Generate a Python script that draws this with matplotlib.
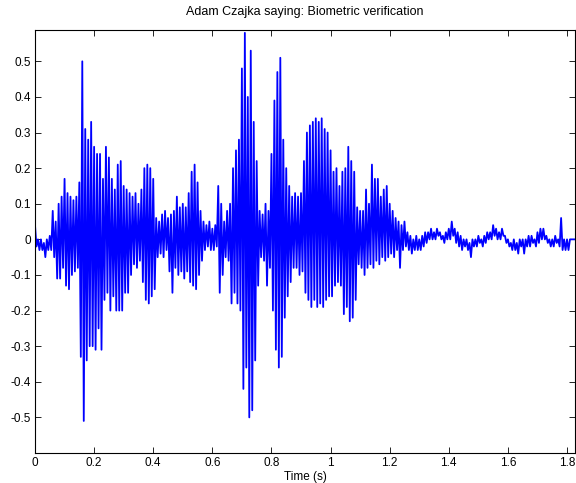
import numpy as np
import matplotlib
matplotlib.use('Agg')
import matplotlib.pyplot as plt

plt.rcParams['font.family'] = ['Liberation Sans', 'DejaVu Sans']
plt.rcParams['axes.unicode_minus'] = False

title = 'Adam Czajka saying: Biometric verification'
dt = 0.01  # one envelope pair per 10 ms

# upper (positive peak) envelope of the waveform, 10 ms bins
env_hi = [
    0.04, 0.00, 0.00, -0.01, 0.00, 0.01, 0.08, 0.05, 0.10, 0.12,
    0.17, 0.13, 0.12, 0.11, 0.12, 0.16, 0.50, 0.31, 0.28, 0.33,
    0.26, 0.24, 0.24, 0.17, 0.26, 0.23, 0.17, 0.14, 0.21, 0.22,
    0.15, 0.14, 0.13, 0.12, 0.13, 0.10, 0.14, 0.20, 0.21, 0.20,
    0.17, 0.06, 0.05, 0.07, 0.08, 0.06, 0.07, 0.08, 0.12, 0.09,
    0.10, 0.09, 0.13, 0.19, 0.21, 0.16, 0.08, 0.05, 0.04, 0.05,
    0.03, 0.04, 0.15, 0.10, 0.05, 0.08, 0.10, 0.20, 0.25, 0.28,
    0.48, 0.58, 0.40, 0.53, 0.33, 0.22, 0.08, 0.07, 0.10, 0.08,
    0.24, 0.39, 0.47, 0.51, 0.28, 0.20, 0.15, 0.12, 0.13, 0.12,
    0.13, 0.22, 0.30, 0.32, 0.33, 0.34, 0.33, 0.34, 0.31, 0.30,
    0.25, 0.19, 0.20, 0.15, 0.19, 0.20, 0.26, 0.22, 0.19, 0.09,
    0.08, 0.08, 0.14, 0.10, 0.21, 0.17, 0.17, 0.12, 0.14, 0.15,
    0.10, 0.08, 0.06, 0.05, 0.04, 0.05, 0.02, 0.01, 0.00, 0.01,
    0.00, 0.01, 0.02, 0.02, 0.03, 0.02, 0.03, 0.02, 0.01, 0.02,
    0.03, 0.05, 0.03, 0.02, 0.01, 0.00, 0.00, -0.01, 0.00, 0.00,
    0.01, 0.00, 0.01, 0.02, 0.02, 0.04, 0.03, 0.02, 0.03, 0.01,
    0.00, -0.01, 0.00, -0.01, 0.00, 0.00, 0.00, 0.01, 0.01, 0.00,
    0.02, 0.03, 0.03, 0.01, 0.00, 0.00, 0.01, 0.00, 0.06, 0.00,
    0.00, 0.00, 0.00, 0.00,
]

# lower (negative peak) envelope, same bins
env_lo = [
    -0.02, -0.03, -0.03, -0.05, -0.03, -0.03, -0.05, -0.11, -0.11, -0.08,
    -0.13, -0.14, -0.10, -0.09, -0.08, -0.33, -0.51, -0.34, -0.30, -0.30,
    -0.31, -0.25, -0.31, -0.17, -0.15, -0.20, -0.16, -0.20, -0.20, -0.20,
    -0.15, -0.15, -0.10, -0.07, -0.08, -0.06, -0.12, -0.17, -0.18, -0.16,
    -0.14, -0.05, -0.04, -0.05, -0.03, -0.09, -0.15, -0.08, -0.10, -0.09,
    -0.11, -0.09, -0.12, -0.13, -0.14, -0.10, -0.06, -0.03, -0.02, -0.03,
    -0.03, -0.02, -0.15, -0.10, -0.05, -0.06, -0.18, -0.15, -0.18, -0.20,
    -0.42, -0.36, -0.50, -0.48, -0.34, -0.13, -0.05, -0.06, -0.13, -0.08,
    -0.20, -0.31, -0.36, -0.33, -0.22, -0.16, -0.12, -0.08, -0.08, -0.10,
    -0.09, -0.15, -0.17, -0.19, -0.17, -0.19, -0.18, -0.19, -0.17, -0.16,
    -0.16, -0.13, -0.12, -0.13, -0.21, -0.19, -0.23, -0.22, -0.17, -0.07,
    -0.08, -0.10, -0.08, -0.07, -0.08, -0.06, -0.07, -0.05, -0.06, -0.05,
    -0.04, -0.05, -0.03, -0.08, -0.03, -0.02, -0.03, -0.04, -0.03, -0.03,
    -0.03, -0.02, -0.01, 0.00, 0.00, 0.00, 0.01, 0.00, -0.01, 0.00,
    0.00, 0.01, -0.01, -0.02, -0.03, -0.02, -0.03, -0.05, -0.02, -0.02,
    -0.01, -0.02, -0.01, 0.00, 0.00, 0.01, 0.00, 0.00, 0.01, -0.01,
    -0.02, -0.03, -0.03, -0.04, -0.02, -0.04, -0.02, -0.02, -0.01, -0.02,
    -0.01, 0.00, 0.00, -0.01, -0.02, -0.02, -0.01, -0.02, -0.03, -0.03,
    -0.03, 0.00, 0.00, 0.00,
]

x_ticks = [0, 0.2, 0.4, 0.6, 0.8, 1, 1.2, 1.4, 1.6, 1.8]
y_ticks = [-0.5, -0.4, -0.3, -0.2, -0.1, 0, 0.1, 0.2, 0.3, 0.4, 0.5]

# interleave peaks and troughs into one trace
n = len(env_hi)
t = np.empty(2 * n)
t[0::2] = np.arange(n) * dt
t[1::2] = np.arange(n) * dt + dt / 2
y = np.empty(2 * n)
y[0::2] = env_hi
y[1::2] = env_lo

fig = plt.figure(figsize=(5.76, 4.83), dpi=100)
ax = fig.add_axes([35 / 576, 1 - 453 / 483, 540 / 576, 423 / 483])
ax.plot(t, y, color='blue', linewidth=1.3)

ax.set_xlim(0, 1.827)
ax.set_ylim(-0.6, 0.588)
ax.set_xticks(x_ticks)
ax.set_xticklabels(['%g' % v for v in x_ticks])
ax.set_yticks(y_ticks)
ax.set_yticklabels(['%g' % v for v in y_ticks])
ax.tick_params(direction='in', top=True, right=True, length=4, width=0.6,
               labelsize=8.5, pad=3)
for s in ax.spines.values():
    s.set_linewidth(0.8)

ax.set_title(title, fontsize=9, pad=11)
ax.set_xlabel('Time (s)', fontsize=8.5, labelpad=1)

fig.savefig('out.png', dpi=100)
